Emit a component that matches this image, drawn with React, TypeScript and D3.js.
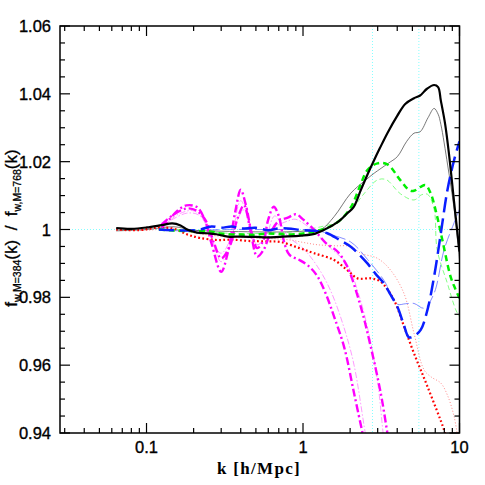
import React from 'react';
import * as d3 from 'd3';

type Pt = [number, number];

// k [h/Mpc], ratio
const blackThick: Pt[] = [
  [0.064, 1.0004], [0.08, 1.0002], [0.1, 1.0006], [0.125, 1.0013], [0.146, 1.0018], [0.165, 1.0012],
  [0.183, 0.9999], [0.21, 0.9991], [0.245, 0.9989], [0.28, 0.9986], [0.33, 0.9979], [0.4, 0.9979],
  [0.5, 0.9978], [0.6, 0.9977], [0.75, 0.9979], [0.97, 0.9982], [1.2, 0.9988], [1.43, 1.0004],
  [1.7, 1.0025], [1.92, 1.0048], [2.1, 1.0065], [2.34, 1.0116], [2.6, 1.0165], [2.85, 1.0205],
  [3.1, 1.024], [3.46, 1.0284], [4.0, 1.0335], [4.5, 1.037], [5.12, 1.0387], [5.6, 1.0395],
  [6.2, 1.0415], [6.88, 1.0426], [7.3, 1.042], [7.6, 1.038], [8.1, 1.031], [8.58, 1.022],
  [9.24, 1.008], [10, 0.9935],
];
const blackThin: Pt[] = [
  [0.064, 0.9996], [0.1, 1.0], [0.15, 1.0008], [0.2, 0.9998], [0.3, 0.9995], [0.5, 0.9993],
  [0.8, 0.9993], [1.0, 0.9995], [1.3, 1.0], [1.58, 1.0038], [2.02, 1.0107], [2.5, 1.0145],
  [2.85, 1.0166], [3.5, 1.0195], [4.01, 1.0215], [4.6, 1.026], [5.12, 1.0284], [5.6, 1.0288],
  [6.3, 1.033], [6.88, 1.0357], [7.3, 1.034], [7.6, 1.031], [8.4, 1.019], [9.24, 1.006], [10, 0.991],
];
const greenThick: Pt[] = [
  [0.12, 1.0], [0.15, 0.9997], [0.2, 0.9995], [0.25, 0.9995], [0.3, 0.9988], [0.4, 0.9985],
  [0.5, 0.9985], [0.6, 0.9988], [0.8, 0.9985], [1.0, 0.9988], [1.2, 0.9995], [1.43, 1.0005],
  [1.7, 1.0025], [2.02, 1.0065], [2.3, 1.0125], [2.58, 1.0175], [2.99, 1.0195], [3.46, 1.0192],
  [4.21, 1.0144], [4.8, 1.0115], [5.12, 1.0114], [5.65, 1.0126], [6.07, 1.0131], [6.54, 1.0107],
  [7.2, 1.0038], [7.77, 0.9969], [8.77, 0.9861], [9.4, 0.9825], [10, 0.9797],
];
const greenThin: Pt[] = [
  [0.12, 1.0], [0.2, 0.9998], [0.3, 0.999], [0.5, 0.9988], [0.8, 0.9992], [1.0, 0.9998],
  [1.3, 1.0008], [1.6, 1.002], [2.02, 1.0057], [2.5, 1.011], [2.99, 1.0146], [3.4, 1.0147],
  [4.2, 1.0105], [5.12, 1.0087], [5.7, 1.0102], [6.24, 1.0104], [6.88, 1.006], [7.2, 0.994],
  [8.37, 0.9841], [9.47, 0.9763], [10, 0.9743],
];
const blueThick: Pt[] = [
  [0.12, 1.0], [0.18, 0.9997], [0.22, 1.0], [0.26, 1.0009], [0.3, 1.0005], [0.35, 1.0009],
  [0.4, 1.0003], [0.5, 1.0005], [0.6, 0.9998], [0.7, 1.0003], [0.8, 1.0003], [1.0, 0.9998],
  [1.2, 0.9996], [1.43, 0.9989], [1.7, 0.997], [2.02, 0.9949], [2.3, 0.9925], [2.58, 0.99],
  [2.9, 0.987], [3.29, 0.9841], [3.6, 0.981], [4.01, 0.9772], [4.4, 0.972], [4.76, 0.9682],
  [5.2, 0.9688], [5.65, 0.9704], [6.24, 0.9763], [6.88, 0.9861], [7.6, 0.9989], [8.37, 1.0116],
  [9.24, 1.0205], [10, 1.026],
];
const blueThin: Pt[] = [
  [0.12, 0.9998], [0.2, 0.9996], [0.3, 1.0], [0.5, 1.0], [0.8, 1.0], [1.0, 1.0], [1.2, 0.9999],
  [1.5, 0.9985], [2.02, 0.9963], [2.58, 0.9912], [3.29, 0.985], [4.0, 0.978], [4.5, 0.9781],
  [5.12, 0.9782], [5.94, 0.9768], [6.88, 0.9812], [7.97, 0.994], [9.24, 1.002], [10, 1.006],
];
const redThick: Pt[] = [
  [0.064, 1.0], [0.09, 0.9998], [0.12, 1.0006], [0.15, 1.0002], [0.183, 0.9985], [0.22, 0.9975],
  [0.284, 0.9969], [0.35, 0.997], [0.46, 0.9966], [0.59, 0.9965], [0.72, 0.9963], [0.95, 0.9945],
  [1.18, 0.993], [1.58, 0.991], [1.92, 0.988], [2.23, 0.9856], [2.71, 0.9856], [3.14, 0.9846],
  [3.81, 0.9792], [4.43, 0.9713], [5.12, 0.9635], [6.24, 0.9537], [7.97, 0.9409], [8.3, 0.938],
];
const redThin: Pt[] = [
  [0.064, 0.9998], [0.1, 0.9998], [0.15, 1.0002], [0.2, 0.999], [0.3, 0.998], [0.5, 0.9975],
  [0.8, 0.997], [1.0, 0.9962], [1.24, 0.9955], [1.6, 0.9952], [2.02, 0.995], [2.34, 0.993],
  [2.99, 0.9915], [3.63, 0.988], [4.43, 0.981], [5.12, 0.9694], [5.94, 0.9586], [6.6, 0.9565],
  [7.6, 0.9547], [8.4, 0.951], [9.24, 0.9448], [9.8, 0.938],
];
const magentaA: Pt[] = [
  [0.125, 1.0005], [0.14, 1.003], [0.16, 1.0058], [0.18, 1.0071], [0.21, 1.0066], [0.235, 1.003],
  [0.26, 0.996], [0.3, 0.9875], [0.33, 0.993], [0.37, 1.0055], [0.4, 1.0117], [0.43, 1.0075],
  [0.47, 0.999], [0.51, 0.9945], [0.56, 0.997], [0.6, 1.003], [0.65, 1.0067], [0.7, 1.004],
  [0.76, 0.996], [0.82, 0.9925], [0.95, 0.991], [1.1, 0.989], [1.24, 0.9861], [1.4, 0.981],
  [1.58, 0.9743], [1.83, 0.9654], [2.12, 0.9517], [2.4, 0.94], [2.5, 0.936],
];
const magentaB: Pt[] = [
  [0.125, 1.0015], [0.15, 1.0045], [0.18, 1.0062], [0.21, 1.0055], [0.24, 1.0025], [0.27, 0.996],
  [0.3, 0.9915], [0.34, 0.995], [0.38, 1.003], [0.42, 1.0072], [0.46, 1.0], [0.51, 0.992],
  [0.56, 0.994], [0.62, 0.999], [0.7, 1.0025], [0.8, 1.0035], [0.9, 1.0045], [1.0, 1.003],
  [1.2, 0.9995], [1.4, 0.996], [1.66, 0.9935], [1.92, 0.989], [2.34, 0.9772], [2.71, 0.9654],
  [3.14, 0.9517], [3.46, 0.94], [3.6, 0.935],
];
const magentaAThin: Pt[] = [
  [0.125, 1.0005], [0.16, 1.0045], [0.2, 1.0055], [0.24, 1.002], [0.3, 0.9905], [0.34, 0.995],
  [0.4, 1.0085], [0.45, 1.0025], [0.51, 0.9955], [0.58, 0.998], [0.66, 1.004], [0.8, 0.998],
  [1.0, 0.9945], [1.24, 0.989], [1.5, 0.982], [1.83, 0.971], [2.12, 0.96], [2.5, 0.94], [2.6, 0.936],
];
const magentaBThin: Pt[] = [
  [0.125, 1.001], [0.18, 1.0048], [0.22, 1.004], [0.3, 0.993], [0.42, 1.0058], [0.51, 0.9955],
  [0.62, 1.0], [0.8, 1.0025], [0.9, 1.003], [1.2, 0.999], [1.5, 0.9945], [1.9, 0.99], [2.3, 0.98],
  [2.7, 0.967], [3.0, 0.955], [3.25, 0.94], [3.35, 0.935],
];

const yMajor = [0.94, 0.96, 0.98, 1, 1.02, 1.04, 1.06];
const yMinor = d3.range(0.94, 1.0601, 0.005);
const xMajor = [0.1, 1, 10];
const xMinor = [0.03, 0.04, 0.05, 0.06, 0.07, 0.08, 0.09, 0.2, 0.3, 0.4, 0.5, 0.6, 0.7, 0.8, 0.9, 2, 3, 4, 5, 6, 7, 8, 9];
const refK = [2.78, 5.5];

const series = [
  { data: redThin, color: '#ff6a6a', w: 0.8, dash: '1,2' },
  { data: magentaAThin, color: '#ff80ff', w: 0.8, dash: '6,2,1.5,2' },
  { data: magentaBThin, color: '#ff80ff', w: 0.8, dash: '6,2,1.5,2' },
  { data: greenThin, color: '#66ff66', w: 0.8, dash: '5,3' },
  { data: blueThin, color: '#6670ff', w: 0.8, dash: '12,4' },
  { data: blackThin, color: '#555555', w: 0.8, dash: null },
  { data: redThick, color: '#ff0000', w: 2.2, dash: '1.8,2.4' },
  { data: magentaA, color: '#ff00ff', w: 2.4, dash: '8,3,2,3' },
  { data: magentaB, color: '#ff00ff', w: 2.4, dash: '8,3,2,3' },
  { data: greenThick, color: '#00ee00', w: 2.5, dash: '6,4' },
  { data: blueThick, color: '#0a1eff', w: 2.5, dash: '15,6' },
  { data: blackThick, color: '#000000', w: 2.2, dash: null },
];

export default function App() {
  const W = 485, H = 485;
  const left = 60, right = 459.5, top = 26, bottom = 433;
  const x = d3.scaleLog().domain([0.028, 10]).range([left, right]);
  const y = d3.scaleLinear().domain([0.94, 1.06]).range([bottom, top]);
  const line = d3.line<Pt>().x(d => x(d[0])).y(d => y(d[1])).curve(d3.curveCatmullRom.alpha(0.5));
  const font = 'Liberation Sans, Arial, sans-serif';

  return (
    <svg width={W} height={H} style={{ position: 'absolute', left: 0, top: 0, background: '#fff' }}>
      <defs>
        <clipPath id="plot"><rect x={left} y={top} width={right - left} height={bottom - top} /></clipPath>
      </defs>
      {/* reference lines */}
      <g stroke="#66ffff" strokeWidth={0.8} strokeDasharray="1,2">
        <line x1={left} x2={right} y1={y(1)} y2={y(1)} />
        {refK.map(k => <line key={k} x1={x(k)} x2={x(k)} y1={top} y2={bottom} />)}
      </g>
      <g clipPath="url(#plot)" fill="none">
        {series.map((s, i) => (
          <path key={i} d={line(s.data) || ''} stroke={s.color} strokeWidth={s.w}
            strokeDasharray={s.dash || undefined} strokeLinejoin="round" />
        ))}
      </g>
      {/* ticks */}
      <g stroke="#000" strokeWidth={1.2}>
        {yMinor.map((v, i) => {
          const major = yMajor.some(m => Math.abs(m - v) < 1e-6);
          const len = major ? 10 : 5;
          return (
            <g key={'y' + i}>
              <line x1={left} x2={left + len} y1={y(v)} y2={y(v)} />
              <line x1={right} x2={right - len} y1={y(v)} y2={y(v)} />
            </g>
          );
        })}
        {xMinor.map(k => (
          <g key={'xm' + k}>
            <line x1={x(k)} x2={x(k)} y1={bottom} y2={bottom - 5} />
            <line x1={x(k)} x2={x(k)} y1={top} y2={top + 5} />
          </g>
        ))}
        {xMajor.map(k => (
          <g key={'xM' + k}>
            <line x1={x(k)} x2={x(k)} y1={bottom} y2={bottom - 10} />
            <line x1={x(k)} x2={x(k)} y1={top} y2={top + 10} />
          </g>
        ))}
      </g>
      <rect x={left} y={top} width={right - left} height={bottom - top} fill="none" stroke="#000" strokeWidth={1.5} />
      {/* tick labels */}
      <g fontFamily={font} fontSize={16.5} fill="#000" stroke="#000" strokeWidth={0.35}>
        {yMajor.map(v => (
          <text key={v} x={51} y={y(v) + 6} textAnchor="end">{d3.format('~g')(v)}</text>
        ))}
        {xMajor.map(k => (
          <text key={k} x={x(k)} y={453} textAnchor="middle">{String(k)}</text>
        ))}
      </g>
      <text x={259} y={474} textAnchor="middle" fontFamily="Liberation Serif, Times New Roman, serif"
        fontWeight="bold" fontSize={17} letterSpacing={1.3} style={{ whiteSpace: 'pre' }}>k [h/Mpc]</text>
      <text transform={`translate(17,228) rotate(-90)`} textAnchor="middle" fontFamily={font} fontSize={17}
        stroke="#000" strokeWidth={0.3} style={{ whiteSpace: 'pre' }}>
        f<tspan fontSize={10.5} dy={4}>w,M=384</tspan><tspan dy={-4}>(k)  /  f</tspan>
        <tspan fontSize={10.5} dy={4}>w,M=768</tspan><tspan dy={-4}>(k)</tspan>
      </text>
    </svg>
  );
}
